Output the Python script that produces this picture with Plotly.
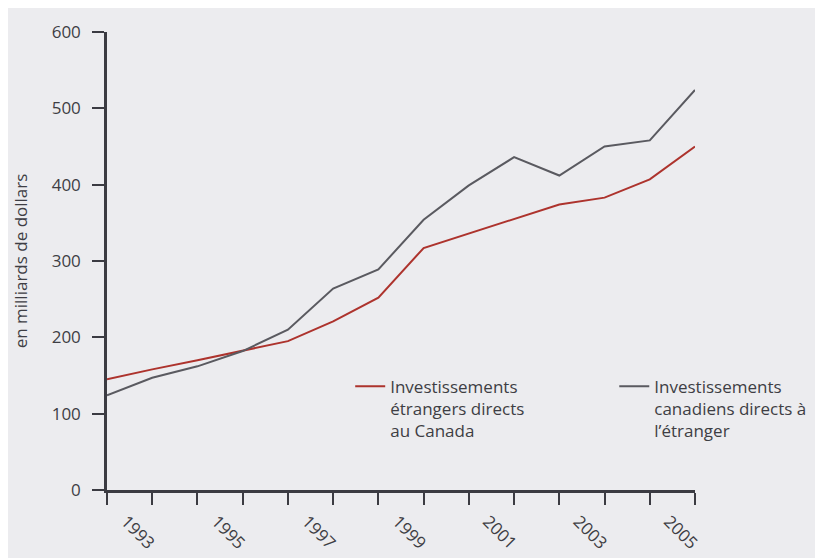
import plotly.graph_objects as go

years = list(range(1993, 2007))
ied_canada = [145, 158, 170, 183, 195, 221, 252, 317, 336, 355, 374, 383, 407, 450]
idc_etranger = [124, 147, 162, 182, 210, 264, 289, 354, 399, 436, 412, 450, 458, 524]
tick_labels = ["1993", "", "1995", "", "1997", "", "1999", "", "2001", "", "2003", "", "2005", ""]
y_ticks = [0, 100, 200, 300, 400, 500, 600]

name_red = "Investissements<br>étrangers directs<br>au Canada"
name_gray = "Investissements<br>canadiens directs à<br>l\u2019étranger"

bg = "#ececef"
axis_col = "#3b3b42"
text_col = "#3e3e44"
font_fam = "Open Sans, Noto Sans, sans-serif"

fig = go.Figure()
fig.add_trace(go.Scatter(x=years, y=ied_canada, mode="lines", name=name_red,
                         legend="legend",
                         line=dict(color="#ad332d", width=2)))
fig.add_trace(go.Scatter(x=years, y=idc_etranger, mode="lines", name=name_gray,
                         legend="legend2",
                         line=dict(color="#5a5a60", width=2)))

leg_common = dict(yanchor="top", xanchor="left", valign="top",
                  bgcolor="rgba(0,0,0,0)", font=dict(size=17, color=text_col))

fig.update_layout(
    width=823, height=558,
    margin=dict(l=97, r=136, t=24, b=65),
    paper_bgcolor=bg, plot_bgcolor=bg,
    font=dict(family=font_fam, size=17, color=text_col),
    showlegend=True,
    legend=dict(x=0.4136, y=0.265, **leg_common),
    legend2=dict(x=0.8627, y=0.265, **leg_common),
    xaxis=dict(range=[1993, 2006], tickvals=years, ticktext=tick_labels,
               tickangle=45, ticks="outside", ticklen=12, tickwidth=2,
               tickcolor=axis_col, showline=True, linecolor=axis_col, linewidth=2.5,
               showgrid=False, zeroline=False, ticklabelshift=19,
               tickfont=dict(size=17, color=text_col)),
    yaxis=dict(range=[0, 600], tickvals=y_ticks, ticks="outside", ticklen=12,
               tickwidth=2, tickcolor=axis_col, showline=True, linecolor=axis_col,
               linewidth=2.5, showgrid=False, zeroline=False,
               ticklabelstandoff=8,
               title=dict(text="en milliards de dollars", standoff=20,
                          font=dict(size=17, color=text_col)),
               tickfont=dict(size=17, color=text_col)),
)

fig.write_html("out.html")
